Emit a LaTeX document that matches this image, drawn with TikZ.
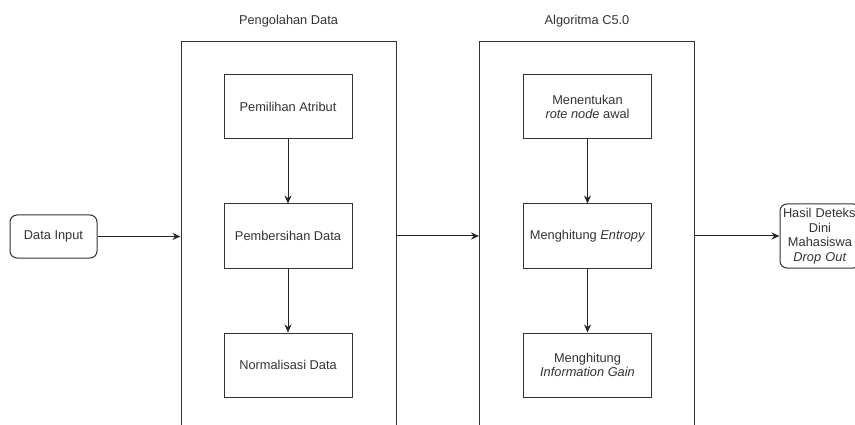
\documentclass[tikz,border=0pt]{standalone}
\usepackage{fontspec}
\setmainfont{Liberation Sans}
\usetikzlibrary{arrows.meta}
\tikzset{
  box/.style={draw=black!80, line width=1pt, minimum width=128pt, minimum height=64pt, align=center, inner sep=2pt},
  endbox/.style={box, rounded corners=7pt},
  frame/.style={draw=black!80, line width=1pt, minimum width=215pt, minimum height=430pt},
  flow/.style={-{Stealth[length=8pt,width=7pt]}, draw=black!85, line width=1pt},
}
\begin{document}
\begin{tikzpicture}[x=1pt,y=-1pt,font=\fontsize{12.8}{14.5}\selectfont,text=black!80]
\clip (0,0) rectangle (855,425);
\fill[white] (0,0) rectangle (855,425);
% containers
\node[frame] (prep) at (288.5,257) {};
\node[frame] (algo) at (587,257) {};
\node (preptitle) at (288.5,21) {Pengolahan Data};
\node (algotitle) at (587,21) {Algoritma C5.0};
% end points
\node[endbox, minimum width=87pt, minimum height=43pt] (input) at (53.5,236.5) {Data Input};
\node[endbox, minimum width=80pt, minimum height=64pt, text width=74pt] (result) at (820,236) {\mbox{Hasil Deteksi}\\Dini\\Mahasiswa\\\textit{Drop Out}};
% pengolahan data
\node[box] (atribut) at (288,107) {Pemilihan Atribut};
\node[box] (bersih) at (288,236) {Pembersihan Data};
\node[box] (normal) at (288,365) {Normalisasi Data};
% algoritma
\node[box] (root) at (587.5,107) {Menentukan\\\textit{rote node} awal};
\node[box] (entropy) at (587.5,236) {Menghitung \textit{Entropy}};
\node[box] (gain) at (587.5,365) {Menghitung\\\textit{Information Gain}};
% arrows
\draw[flow] (atribut) -- (bersih);
\draw[flow] (bersih) -- (normal);
\draw[flow] (root) -- (entropy);
\draw[flow] (entropy) -- (gain);
\draw[flow] (input) -- (input -| prep.west);
\draw[flow] (bersih -| prep.east) -- (bersih -| algo.west);
\draw[flow] (entropy -| algo.east) -- (result);
\end{tikzpicture}
\end{document}
